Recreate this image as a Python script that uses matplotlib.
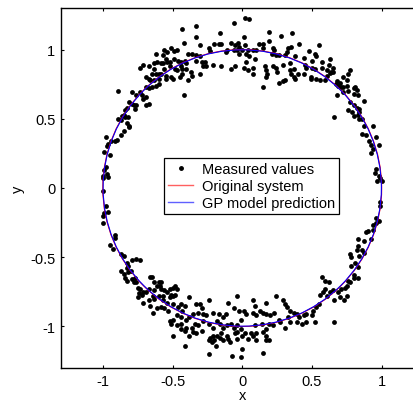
import numpy as np
import matplotlib
matplotlib.use("Agg")
import matplotlib.pyplot as plt
from matplotlib.patches import Circle
from matplotlib.lines import Line2D

plt.rcParams['font.family'] = ['Liberation Sans', 'DejaVu Sans']

top_x = [0.02, 0.05, -0.06, -0.33, -0.43, -0.16, 0.19, 0.36, 0.28, 0.01, -0.33, -0.42, 0.19, -0.30,
         -0.20, -0.17, -0.15, -0.08, -0.03, -0.05, -0.02, 0.02, 0.12, 0.15, 0.41, 0.55, -0.56, -0.51,
         -0.47, -0.54, -0.49, -0.62, -0.24, -0.23, -0.11, -0.12, -0.06, -0.04, 0.00, 0.04, 0.08, 0.10,
         0.15, 0.22, 0.23, 0.33, 0.35, 0.48, 0.32, 0.31, 0.52, -0.57, -0.55, -0.54, -0.52, -0.49, -0.46,
         -0.44, -0.41, -0.40, -0.33, -0.29, -0.27, -0.33, -0.30, -0.39, -0.36, -0.02, 0.03, 0.05, 0.09,
         0.03, 0.21, 0.24, 0.26, 0.38, 0.44, 0.57, 0.63, 0.50, 0.53]
top_y = [1.23, 1.22, 1.19, 1.17, 1.15, 1.12, 1.13, 1.12, 1.10, 1.09, 1.09, 1.05, 1.06, 1.03,
         1.04, 1.04, 1.04, 1.05, 1.05, 1.03, 1.02, 1.03, 1.04, 1.04, 1.04, 1.03, 1.00, 1.01,
         1.00, 0.98, 0.99, 0.97, 1.01, 0.99, 1.00, 0.98, 1.00, 1.00, 1.00, 1.00, 1.00, 1.00,
         1.01, 1.01, 1.00, 1.01, 1.02, 0.99, 0.98, 0.96, 0.97, 0.96, 0.93, 0.91, 0.91, 0.93, 0.92,
         0.91, 0.92, 0.90, 0.92, 0.91, 0.91, 0.96, 0.95, 0.97, 0.97, 0.97, 0.97, 0.95, 0.93,
         0.91, 0.97, 0.96, 0.96, 0.95, 0.94, 0.91, 0.93, 0.92, 0.95]

upper_x = [-0.71, -0.73, -0.67, -0.63, -0.61, -0.58, -0.57, -0.63, -0.56, -0.52, -0.48, -0.44, -0.43,
           -0.47, -0.40, -0.28, -0.26, -0.21, -0.15, -0.08, -0.05, 0.01, 0.08, 0.16, 0.17, 0.22, 0.24,
           0.29, 0.34, 0.37, 0.45, 0.46, 0.50, 0.52, 0.57, 0.62, 0.61, 0.65, 0.34, 0.35, 0.37, 0.38,
           0.40, 0.25, 0.18, 0.17, 0.08, 0.04, 0.44, 0.49, 0.49, 0.53, 0.56, 0.59, 0.61, 0.63, 0.64,
           0.65, -0.69, -0.67, -0.65, -0.62, -0.60, -0.58, -0.55, -0.66, -0.63, -0.60, -0.55, -0.51,
           -0.50, -0.45, -0.43, -0.39, -0.36, -0.37, -0.30, 0.72, 0.75, 0.76, 0.77, 0.70, 0.68]
upper_y = [0.89, 0.87, 0.88, 0.90, 0.91, 0.90, 0.90, 0.86, 0.86, 0.88, 0.86, 0.88, 0.86,
           0.85, 0.86, 0.88, 0.88, 0.89, 0.88, 0.86, 0.88, 0.87, 0.87, 0.88, 0.85, 0.88, 0.87,
           0.89, 0.90, 0.86, 0.89, 0.87, 0.87, 0.86, 0.87, 0.89, 0.85, 0.87, 0.85, 0.82, 0.80, 0.79,
           0.82, 0.84, 0.82, 0.80, 0.82, 0.85, 0.82, 0.80, 0.79, 0.79, 0.78, 0.78, 0.81, 0.83, 0.84,
           0.84, 0.80, 0.79, 0.82, 0.82, 0.82, 0.82, 0.81, 0.78, 0.78, 0.79, 0.79, 0.80,
           0.79, 0.80, 0.82, 0.78, 0.81, 0.84, 0.82, 0.80, 0.78, 0.82, 0.85, 0.76, 0.77]

mid_x = [-0.89, -0.79, -0.76, -0.73, -0.69, -0.67, -0.65, -0.62, -0.60, -0.72, -0.71, -0.69, -0.81,
         -0.78, -0.77, -0.83, -0.84, -0.85, -0.86, -0.84, -0.82, -0.79, -0.76, -0.69, -0.67, -0.42,
         0.26, 0.29, 0.31, 0.15, 0.67, 0.69, 0.71, 0.72, 0.75, 0.68, 0.72, 0.76, 0.80, 0.81, 0.82,
         0.80, 0.83, 0.77, 0.80, 0.82, 0.84, 0.87, 0.76, 0.79, 0.80, 0.83, 0.84, 0.66, 0.84,
         -0.89, -0.87, -0.83, -0.81, -0.81, -0.85, -0.87, -0.90, -0.91, -0.94, -0.98, -0.96, -0.97,
         -0.99, -0.95, 0.86, 0.87, 0.94, 0.86, 0.89, 0.96, 0.91, 0.92, 0.94, 0.92, 0.98]
mid_y = [0.70, 0.69, 0.67, 0.69, 0.73, 0.72, 0.73, 0.74, 0.75, 0.67, 0.64, 0.66, 0.62,
         0.60, 0.57, 0.58, 0.56, 0.53, 0.52, 0.51, 0.51, 0.61, 0.60, 0.60, 0.61, 0.67,
         0.76, 0.77, 0.78, 0.73, 0.75, 0.74, 0.73, 0.73, 0.74, 0.67, 0.69, 0.70, 0.72, 0.73, 0.71,
         0.68, 0.67, 0.62, 0.60, 0.58, 0.57, 0.63, 0.56, 0.55, 0.52, 0.53, 0.55, 0.51, 0.50,
         0.50, 0.49, 0.47, 0.45, 0.44, 0.41, 0.38, 0.35, 0.34, 0.34, 0.37, 0.32, 0.30,
         0.26, 0.24, 0.50, 0.45, 0.45, 0.39, 0.38, 0.37, 0.34, 0.31, 0.28, 0.25, 0.31]

side_x = [-0.98, -0.99, -1.00, -0.97, -0.96, -1.00, -1.00, 0.96, 0.95, 0.98, 0.99, 1.00, 0.97, 0.99,
          0.99, -0.98, -0.99, -0.96, -1.00, -1.00, -0.91, -0.91, -0.95, -0.93, -0.87, -0.85, -0.83,
          -0.82, -0.79, -0.76, -0.73, 0.96, 0.98, 0.96, 0.94, 0.94, 0.90, 0.89, 0.92, 0.87, 0.83,
          0.83, 0.82, 0.86, 0.87, 0.84, 0.77, 0.78, 0.81, 0.78, 0.83]
side_y = [0.15, 0.13, 0.09, 0.10, 0.08, 0.07, -0.02, 0.14, 0.11, 0.09, 0.07, 0.05, 0.05, -0.10,
          -0.13, -0.13, -0.18, -0.17, -0.25, -0.20, -0.34, -0.36, -0.41, -0.44, -0.48, -0.49, -0.54,
          -0.56, -0.52, -0.51, -0.52, -0.22, -0.24, -0.25, -0.27, -0.30, -0.31, -0.32, -0.37, -0.38, -0.37,
          -0.42, -0.45, -0.45, -0.47, -0.49, -0.48, -0.50, -0.54, -0.56, -0.57]

lower_x = [-0.87, -0.85, -0.83, -0.82, -0.80, -0.84, -0.83, -0.79, -0.78, -0.77, -0.76, -0.75, -0.73,
           -0.74, -0.72, -0.71, -0.69, -0.75, -0.71, -0.66, -0.65, -0.63, -0.60, -0.58, -0.59, -0.61,
           -0.67, -0.63, -0.58, -0.56, -0.54, -0.52, -0.50, -0.48, -0.47, -0.51, -0.50, -0.52, -0.57,
           -0.60, -0.64, -0.67, -0.63, -0.57, -0.54, -0.48, 0.57, 0.59, 0.62, 0.59, 0.58, 0.56, 0.61,
           0.63, 0.65, 0.69, 0.71, 0.74, 0.75, 0.75, 0.73, 0.70, 0.66, 0.77, 0.80, 0.80, 0.83, 0.76]
lower_y = [-0.60, -0.62, -0.58, -0.61, -0.60, -0.65, -0.67, -0.66, -0.68, -0.65, -0.68, -0.72, -0.73,
           -0.76, -0.77, -0.75, -0.75, -0.79, -0.83, -0.64, -0.64, -0.68, -0.68, -0.68, -0.71, -0.71,
           -0.73, -0.74, -0.73, -0.74, -0.75, -0.73, -0.72, -0.71, -0.73, -0.77, -0.78, -0.79, -0.78,
           -0.78, -0.78, -0.81, -0.80, -0.81, -0.83, -0.77, -0.64, -0.67, -0.68, -0.73, -0.75, -0.77, -0.78,
           -0.75, -0.74, -0.75, -0.73, -0.72, -0.71, -0.78, -0.81, -0.79, -0.81, -0.68, -0.65, -0.63, -0.65, -0.67]

bottom_x = [-0.66, -0.64, -0.61, -0.58, -0.56, -0.53, -0.50, -0.46, -0.44, -0.41, -0.43, -0.38, -0.33,
            -0.30, -0.29, -0.32, -0.35, -0.38, -0.40, -0.44, -0.47, -0.50, -0.52, -0.51, -0.47, -0.44,
            -0.40, -0.41, -0.36, -0.34, -0.32, -0.29, -0.38, -0.41, -0.50, -0.28, -0.26, -0.24, -0.28,
            -0.24, -0.21, -0.18, -0.17, -0.14, -0.12, -0.10, -0.06, -0.04, -0.02, 0.01, -0.01, 0.03,
            0.08, 0.10, 0.13, 0.15, 0.17, 0.20, 0.23, 0.24, 0.17, 0.08, 0.09, 0.29, 0.31, 0.32, 0.34,
            0.37, 0.39, 0.41, 0.44, 0.46, 0.50, 0.51, 0.53, 0.55, 0.33, 0.34, 0.39, 0.43, 0.46, 0.52,
            0.66, 0.31, 0.27, 0.26, 0.22, 0.19, 0.17, 0.15, 0.10, 0.08, 0.06, 0.04, 0.02, 0.00, -0.04,
            -0.05, -0.06, -0.11, -0.15, -0.18, -0.21, -0.23, -0.24, -0.22, -0.20, -0.16, -0.14, -0.10,
            -0.09, -0.04, -0.04, -0.08, -0.11, -0.14, -0.16, -0.21, -0.01, 0.09, 0.14, 0.17, 0.17, 0.19,
            -0.33, -0.35, -0.44, -0.19, -0.24, -0.07, -0.01, 0.00, 0.15, 0.10]
bottom_y = [-0.85, -0.90, -0.87, -0.86, -0.87, -0.89, -0.84, -0.86, -0.84, -0.85, -0.89, -0.79, -0.84,
            -0.84, -0.87, -0.90, -0.91, -0.93, -0.95, -0.93, -0.92, -0.95, -0.96, -0.98, -0.99, -0.98,
            -1.01, -1.03, -1.01, -0.98, -0.99, -1.03, -1.07, -1.14, -1.07, -0.91, -0.92, -0.81, -0.96,
            -0.98, -0.90, -0.96, -0.91, -0.93, -0.91, -0.83, -0.87, -0.78, -0.89, -0.89, -0.95, -0.91,
            -0.90, -0.92, -0.89, -0.90, -0.91, -0.92, -0.90, -0.78, -0.83, -0.81, -0.85, -0.81, -0.84, -0.86, -0.89,
            -0.90, -0.91, -0.93, -0.92, -0.91, -0.92, -0.89, -0.86, -0.84, -0.93, -0.97, -0.97, -0.98, -0.97, -0.97,
            -0.97, -1.01, -0.97, -0.95, -0.99, -0.98, -1.02, -1.04, -1.05, -1.07, -1.05, -1.09, -1.05, -1.07, -1.09,
            -1.05, -1.01, -1.07, -1.05, -1.07, -1.07, -1.08, -1.10, -1.11, -1.10, -1.08, -1.10, -1.09,
            -1.11, -1.04, -0.99, -0.98, -0.99, -1.01, -0.98, -1.01, -1.02, -0.99, -0.98, -1.07, -1.10, -1.10,
            -1.05, -1.04, -1.02, -1.14, -1.20, -1.21, -1.22, -1.16, -1.19, -1.10]

measured_x = np.array(top_x + upper_x + mid_x + side_x + lower_x + bottom_x)
measured_y = np.array(top_y + upper_y + mid_y + side_y + lower_y + bottom_y)

# ---- Curves ----
original_center = (0.0, 0.0)
original_radius = 1.0
gp_center = (0.0, 0.0)
gp_radius = 0.998

labels = ["Measured values", "Original system", "GP model prediction"]
x_ticks = [-1, -0.5, 0, 0.5, 1]
y_ticks = [-1, -0.5, 0, 0.5, 1]
x_tick_labels = ["-1", "-0.5", "0", "0.5", "1"]
y_tick_labels = ["-1", "-0.5", "0", "0.5", "1"]

fig = plt.figure(figsize=(4.13, 4.02), dpi=100)
ax = fig.add_axes([61 / 413, 33 / 402, 362.5 / 413, 360 / 402])

ax.scatter(measured_x, measured_y, s=12, c='black', linewidths=0, zorder=2)
ax.add_patch(Circle(original_center, original_radius, fill=False, ec='#ff0000', lw=0.8, zorder=3))
ax.add_patch(Circle(gp_center, gp_radius, fill=False, ec='#0000ff', lw=0.8, zorder=4))

ax.set_xlim(-1.3, 1.3)
ax.set_ylim(-1.3, 1.3)
ax.set_xticks(x_ticks)
ax.set_xticklabels(x_tick_labels)
ax.set_yticks(y_ticks)
ax.set_yticklabels(y_tick_labels)
ax.tick_params(direction='in', length=2.5, width=0.8, top=True, right=True,
               labelsize=10.5, pad=4, colors='black')
for sp in ax.spines.values():
    sp.set_linewidth(1.0)
    sp.set_color('black')

ax.set_xlabel('x', fontsize=10.5, labelpad=0)
ax.set_ylabel('y', fontsize=10.5, labelpad=4)

handles = [
    Line2D([], [], ls='none', marker='o', ms=2.5, mfc='black', mec='black'),
    Line2D([], [], color='#ff6060', lw=1.0),
    Line2D([], [], color='#6060ff', lw=1.0),
]
leg = ax.legend(handles, labels, loc='center', bbox_to_anchor=(0.5255, 0.5056),
                fontsize=10.5, frameon=True, fancybox=False, shadow=False,
                handlelength=1.7, handletextpad=0.6, borderpad=0.3,
                labelspacing=0.2, borderaxespad=0)
leg.get_frame().set_edgecolor('black')
leg.get_frame().set_linewidth(0.9)
leg.get_frame().set_alpha(1)

fig.savefig('out.png', dpi=100)
